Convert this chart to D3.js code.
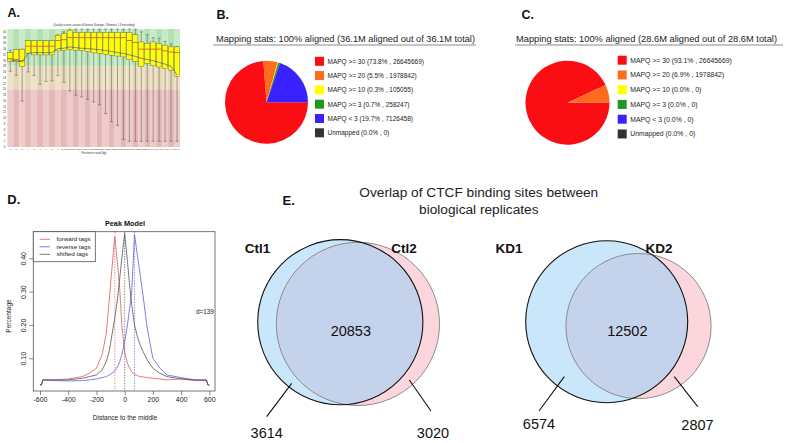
<!DOCTYPE html>
<html>
<head>
<meta charset="utf-8">
<script src="https://cdn.jsdelivr.net/npm/d3@7"></script>
<style>
  body { margin: 0; background: #fff; }
  svg { display: block; font-family: "Liberation Sans", Arial, Helvetica, sans-serif; }
</style>
</head>
<body>
<svg id="fig" width="787" height="443"></svg>
<script>
// ---------------- data ----------------
// A. per-base quality boxplot (FastQC style)
var qualPos = ["1","2","3","4","5","6","7","8","9","10-11","12-13","14-15","16-17","18-19","20-21",
  "22-23","24-25","26-27","28-29","30-31","32-33","34-35","36-37","38-39","40-41","42-43","44-45","46-47","48-49"];
var qualP10 = [26.3,24.9,16,26.1,24.9,21.8,22.8,23,24.8,22.5,19.5,18,17.4,16.5,15.7,14.7,11.6,8.8,7.5,2.6,2,2,2,2,2,2,2,2,2];
var qualQ1  = [29.8,29.6,28,32.5,32,32,32,32,33.4,33.5,33.8,33.6,33.5,33.2,32.7,32.5,32.2,31.9,31.6,31.3,30.4,29.6,28,29,28.2,27.8,27.2,26.7,24.6];
var qualMed = [30.7,30.4,30,35,35,35,35,35,37,37.3,38,38,38,38,38,38,38,38,38,38,37,36.3,34,34,34,34,33.4,33,32.8];
var qualQ3  = [32.8,33.9,34,37,37,37,37,37,38.8,39.4,40.6,39.8,39.8,39.8,39.8,39.8,39.8,39.8,39.8,39.8,39.8,39,36.5,36,36.5,36,35.4,34.8,34.8];
var qualP90 = [33.6,33.8,34,37,37,37,37,37,39,40,41,41,41,41,41,41,41,41,41,41,41,41,40,39,38,37.8,36.7,35.8,34.9];
var qualMean = [30.2,30.0,29.6,32.6,32.8,32.8,32.8,32.8,34.2,34.3,34.8,34.5,34.3,34.2,34.0,33.8,33.5,33.2,32.8,32.5,32.0,31.5,30.8,30.4,30.0,29.4,28.8,28.0,25.0];
var qualTicks = d3.range(0, 41, 2);

// B / C. mapping stats
var mapqLabels = ["MAPQ >= 30","MAPQ >= 20","MAPQ >= 10","MAPQ >= 3","MAPQ < 3","Unmapped"];
var mapqColors = ["#fb0d14","#ff6b1c","#ffff00","#1f991f","#3a22ff","#333333"];
var pctB = [73.8,5.5,0.3,0.7,19.7,0.0];
var countB = [26645669,1978842,105055,258247,7126458,0];
var pctC = [93.1,6.9,0.0,0.0,0.0,0.0];
var countC = [26645669,1978842,0,0,0,0];

// D. MACS peak model
var peakX = [-600,-590,-580,-500,-400,-300,-250,-200,-160,-130,-110,-90,-70,-50,-35,-20,0,20,35,50,70,90,110,130,160,200,250,300,400,500,580,590,600];
var fwdTags = [.02,.02,.035,.035,.038,.045,.055,.07,.11,.175,.27,.37,.465,.38,.31,.20,.12,.085,.07,.06,.052,.048,.045,.044,.042,.040,.038,.035,.038,.033,.035,.02,.02];
var revTags = [.02,.02,.035,.033,.032,.033,.035,.038,.042,.045,.05,.055,.062,.075,.09,.11,.15,.20,.25,.30,.47,.41,.35,.29,.19,.10,.07,.05,.042,.035,.033,.02,.02];
var shiftTags = [.02,.02,.035,.035,.035,.04,.045,.05,.065,.09,.12,.17,.22,.28,.34,.40,.475,.39,.32,.26,.20,.165,.14,.12,.095,.07,.055,.045,.038,.035,.035,.02,.02];
var peakD = 139;

// E. Venn overlaps
var vennNames = [["Ctl1","Ctl2"],["KD1","KD2"]];
var vennOnlyA = [3614, 6574];
var vennOnlyB = [3020, 2807];
var vennBoth  = [20853, 12502];

// ---------------- drawing ----------------
var svg = d3.select("#fig");
svg.append("rect").attr("width", 787).attr("height", 443).attr("fill", "#fff");

function label(txt, x, y, size) {
  svg.append("text").attr("x", x).attr("y", y).attr("font-size", size)
    .attr("font-weight", "bold").attr("fill", "#111").text(txt);
}
label("A.", 7.5, 16.7, 12.5);
label("B.", 216.5, 19.3, 12.5);
label("C.", 521.5, 19.2, 12.5);
label("D.", 7.3, 204.3, 13);
label("E.", 282.5, 205, 13);

// ---- A ----
var gA = svg.append("g");
var aX = d3.scaleBand().domain(qualPos).range([7.3, 180]).paddingInner(0.12).paddingOuter(0.06);
var aY = d3.scaleLinear().domain([0, 41]).range([147, 29]);
var zones = [
  {lo: 28, hi: 41, c: ["#c6ebc6", "#b4e0b4"]},
  {lo: 20, hi: 28, c: ["#efe3c7", "#e6d8b6"]},
  {lo: 0,  hi: 20, c: ["#efcaca", "#e5b8b8"]}
];
var gap = (aX.step() - aX.bandwidth()) / 2;
zones.forEach(function(z) {
  gA.selectAll(null).data(qualPos).enter().append("rect")
    .attr("x", function(d) { return aX(d) - gap; })
    .attr("width", aX.step() + 0.05)
    .attr("y", aY(z.hi)).attr("height", aY(z.lo) - aY(z.hi))
    .attr("fill", function(d, i) { return z.c[i % 2]; });
});
var cx = function(i) { return aX(qualPos[i]) + aX.bandwidth() / 2; };
// whiskers
qualPos.forEach(function(p, i) {
  var w = aX.bandwidth() * 0.6;
  gA.append("line").attr("x1", cx(i)).attr("x2", cx(i))
    .attr("y1", aY(qualP10[i])).attr("y2", aY(qualP90[i]))
    .attr("stroke", "#555").attr("stroke-width", 0.5);
  [qualP10[i], qualP90[i]].forEach(function(v) {
    gA.append("line").attr("x1", cx(i) - w / 2).attr("x2", cx(i) + w / 2)
      .attr("y1", aY(v)).attr("y2", aY(v)).attr("stroke", "#555").attr("stroke-width", 0.5);
  });
});
gA.selectAll(null).data(qualPos).enter().append("rect")
  .attr("x", function(d) { return aX(d); })
  .attr("width", aX.bandwidth())
  .attr("y", function(d, i) { return aY(qualQ3[i]); })
  .attr("height", function(d, i) { return aY(qualQ1[i]) - aY(qualQ3[i]); })
  .attr("fill", "#ffff00").attr("stroke", "#555").attr("stroke-width", 0.4);
gA.selectAll(null).data(qualPos).enter().append("line")
  .attr("x1", function(d) { return aX(d); })
  .attr("x2", function(d) { return aX(d) + aX.bandwidth(); })
  .attr("y1", function(d, i) { return aY(qualMed[i]); })
  .attr("y2", function(d, i) { return aY(qualMed[i]); })
  .attr("stroke", "#e03020").attr("stroke-width", 0.7);
gA.append("path").datum(qualMean)
  .attr("d", d3.line().x(function(d, i) { return cx(i); }).y(function(d) { return aY(d); }))
  .attr("fill", "none").attr("stroke", "#3a3a9a").attr("stroke-width", 0.6);
gA.selectAll(null).data(qualTicks).enter().append("text")
  .attr("x", 4.5).attr("y", function(d) { return aY(d) + 1; })
  .attr("text-anchor", "middle").attr("font-size", 2.8).attr("fill", "#333")
  .text(function(d) { return d; });
gA.selectAll(null).data(qualPos).enter().append("text")
  .attr("x", function(d, i) { return cx(i); }).attr("y", 150)
  .attr("text-anchor", "middle").attr("font-size", 2.3).attr("fill", "#333")
  .text(function(d) { return d; });
gA.append("text").attr("x", 94).attr("y", 153.5).attr("text-anchor", "middle")
  .attr("font-size", 2.8).attr("fill", "#333").text("Position in read (bp)");
gA.append("text").attr("x", 94).attr("y", 26.3).attr("text-anchor", "middle")
  .attr("font-size", 2.9).attr("fill", "#333")
  .text("Quality scores across all bases (Sanger / Illumina 1.9 encoding)");

// ---- B / C ----
function mapPanel(o) {
  var g = svg.append("g");
  g.append("text").attr("x", o.tx).attr("y", 41.5).attr("font-size", 9.25).attr("fill", "#222")
    .attr("textLength", o.tlen).attr("lengthAdjust", "spacingAndGlyphs").text(o.title);
  g.append("line").attr("x1", o.lx1).attr("x2", o.lx2).attr("y1", 45).attr("y2", 45)
    .attr("stroke", "#8a8a8a").attr("stroke-width", 1);
  var pie = d3.pie().sort(null).startAngle(Math.PI / 2).endAngle(Math.PI / 2 + 2 * Math.PI);
  var arc = d3.arc().innerRadius(0).outerRadius(o.r);
  g.append("g").attr("transform", "translate(" + o.cx + "," + o.cy + ")")
    .selectAll("path").data(pie(o.pct)).enter().append("path")
    .attr("d", arc).attr("fill", function(d, i) { return mapqColors[i]; });
  mapqLabels.forEach(function(lab, i) {
    var y = o.row0 + i * o.step;
    g.append("rect").attr("x", o.sx).attr("y", y - 4.5).attr("width", 9).attr("height", 9)
      .attr("fill", mapqColors[i]);
    g.append("text").attr("x", o.sx + 12.5).attr("y", y + 2.3).attr("font-size", o.fs)
      .attr("fill", "#222")
      .text(lab + " (" + o.pct[i].toFixed(1) + "% , " + o.counts[i] + ")");
  });
}
mapPanel({title: "Mapping stats: 100% aligned (36.1M aligned out of 36.1M total)",
  tx: 216, tlen: 259, lx1: 213, lx2: 476, cx: 266.5, cy: 102.3, r: 41.5,
  pct: pctB, counts: countB, sx: 315, row0: 61.3, step: 14.3, fs: 6.5});
mapPanel({title: "Mapping stats: 100% aligned (28.6M aligned out of 28.6M total)",
  tx: 516, tlen: 261, lx1: 515, lx2: 783, cx: 567.5, cy: 102.7, r: 42,
  pct: pctC, counts: countC, sx: 617.7, row0: 60.2, step: 14.75, fs: 6.85});

// ---- D ----
var gD = svg.append("g");
var dX = d3.scaleLinear().domain([-600, 600]).range([40, 209.3]);
var dY = d3.scaleLinear().domain([0, 0.4]).range([391.6, 258.3]);
var box = {x0: 33.3, x1: 215, y0: 231.7, y1: 391};
var series = [
  {name: "forward tags", vals: fwdTags, color: "#d95c5c", mode: -peakD / 2},
  {name: "reverse tags", vals: revTags, color: "#5f5fd6", mode: peakD / 2},
  {name: "shifted tags", vals: shiftTags, color: "#555555", mode: 0}
];
series.forEach(function(s) {
  gD.append("line").attr("x1", dX(s.mode)).attr("x2", dX(s.mode))
    .attr("y1", box.y0).attr("y2", box.y1)
    .attr("stroke", s.color).attr("stroke-width", 0.8).attr("stroke-dasharray", "1.2,1.5");
});
var line = d3.line().x(function(d, i) { return dX(peakX[i]); }).y(function(d) { return dY(d); });
series.forEach(function(s) {
  gD.append("path").datum(s.vals).attr("d", line)
    .attr("fill", "none").attr("stroke", s.color).attr("stroke-width", 0.8);
});
gD.append("rect").attr("x", box.x0).attr("y", box.y0)
  .attr("width", box.x1 - box.x0).attr("height", box.y1 - box.y0)
  .attr("fill", "none").attr("stroke", "#555").attr("stroke-width", 0.8);
var xAxis = gD.append("g").attr("transform", "translate(0," + box.y1 + ")")
  .call(d3.axisBottom(dX).tickValues(d3.range(-600, 601, 200)).tickSize(4).tickPadding(2)
    .tickFormat(function(d) { return String(d); }));
xAxis.select(".domain").remove();
xAxis.selectAll("line").attr("stroke", "#555").attr("stroke-width", 0.7);
xAxis.selectAll("text").attr("font-size", 7).attr("fill", "#222").attr("font-family", null);
var yAxis = gD.append("g").attr("transform", "translate(" + box.x0 + ",0)")
  .call(d3.axisLeft(dY).tickValues([0.1, 0.2, 0.3, 0.4]).tickSize(4));
yAxis.select(".domain").remove();
yAxis.selectAll("line").attr("stroke", "#555").attr("stroke-width", 0.7);
yAxis.selectAll("text").attr("font-size", 7).attr("fill", "#222").attr("font-family", null)
  .attr("transform", "rotate(-90)").attr("x", 0).attr("y", -7).attr("dy", 0)
  .attr("text-anchor", "middle");
gD.append("text").attr("x", 125).attr("y", 226).attr("text-anchor", "middle")
  .attr("font-size", 7.3).attr("font-weight", "bold").attr("fill", "#111").text("Peak Model");
gD.append("text").attr("x", 125).attr("y", 420).attr("text-anchor", "middle")
  .attr("font-size", 6.5).attr("fill", "#222").text("Distance to the middle");
gD.append("text").attr("transform", "translate(10.5,316) rotate(-90)").attr("text-anchor", "middle")
  .attr("font-size", 6.5).attr("fill", "#222").text("Percentage");
gD.append("text").attr("x", 196).attr("y", 314).attr("font-size", 6.3).attr("fill", "#222")
  .text("d=" + peakD);
gD.append("rect").attr("x", box.x0).attr("y", box.y0).attr("width", 62).attr("height", 30)
  .attr("fill", "#fff").attr("stroke", "#555").attr("stroke-width", 0.8);
series.forEach(function(s, i) {
  var y = 239.3 + i * 7.5;
  gD.append("line").attr("x1", 39.5).attr("x2", 50).attr("y1", y).attr("y2", y)
    .attr("stroke", s.color).attr("stroke-width", 0.8);
  gD.append("text").attr("x", 56.5).attr("y", y + 2).attr("font-size", 6.2).attr("fill", "#222")
    .text(s.name);
});

// ---- E ----
var gE = svg.append("g");
gE.append("text").attr("x", 478.8).attr("y", 196.5).attr("text-anchor", "middle")
  .attr("font-size", 13.7).attr("fill", "#222").text("Overlap of CTCF binding sites between");
gE.append("text").attr("x", 478.8).attr("y", 213.5).attr("text-anchor", "middle")
  .attr("font-size", 13.7).attr("fill", "#222").text("biological replicates");

function lensArea(r1, r2, d) {
  if (d >= r1 + r2) return 0;
  if (d <= Math.abs(r1 - r2)) return Math.PI * Math.pow(Math.min(r1, r2), 2);
  var a = r1 * r1 * Math.acos((d * d + r1 * r1 - r2 * r2) / (2 * d * r1));
  var b = r2 * r2 * Math.acos((d * d + r2 * r2 - r1 * r1) / (2 * d * r2));
  var c = 0.5 * Math.sqrt((-d + r1 + r2) * (d + r1 - r2) * (d - r1 + r2) * (d + r1 + r2));
  return a + b - c;
}
function solveDist(r1, r2, target) {
  var lo = Math.abs(r1 - r2), hi = r1 + r2;
  for (var k = 0; k < 60; k++) {
    var mid = (lo + hi) / 2;
    if (lensArea(r1, r2, mid) > target) lo = mid; else hi = mid;
  }
  return (lo + hi) / 2;
}

var vennLayout = [
  {cx: 340.3, cy: 322.2, rMax: 82.6, angle: 5.5, nameX: [257.5, 404], nameY: 253.3,
   both: [350.8, 336], onlyA: [266.7, 438.3], onlyB: [433, 438.3],
   leadA: [[291.7, 383.3], [266.7, 416.7]], leadB: [[409.3, 380], [431, 411]]},
  {cx: 606.7, cy: 321.7, rMax: 81, angle: 7.8, nameX: [509, 659], nameY: 253.3,
   both: [627.3, 336], onlyA: [539, 429], onlyB: [697.5, 430],
   leadA: [[564.3, 376.7], [539, 411]], leadB: [[674.3, 376.7], [697.7, 406.7]]}
];

vennLayout.forEach(function(L, v) {
  var totA = vennOnlyA[v] + vennBoth[v], totB = vennOnlyB[v] + vennBoth[v];
  var rScale = d3.scaleSqrt().domain([0, Math.max(totA, totB)]).range([0, L.rMax]);
  var rA = rScale(totA), rB = rScale(totB);
  var unitArea = Math.PI * L.rMax * L.rMax / Math.max(totA, totB);
  var d = solveDist(rA, rB, vennBoth[v] * unitArea);
  var t = L.angle * Math.PI / 180;
  var bx = L.cx + d * Math.cos(t), by = L.cy + d * Math.sin(t);
  var clipId = "clipV" + v;
  gE.append("clipPath").attr("id", clipId).append("circle")
    .attr("cx", L.cx).attr("cy", L.cy).attr("r", rA);
  gE.append("circle").attr("cx", L.cx).attr("cy", L.cy).attr("r", rA).attr("fill", "#c9e6fb");
  gE.append("circle").attr("cx", bx).attr("cy", by).attr("r", rB).attr("fill", "#fcd6dd");
  gE.append("circle").attr("cx", bx).attr("cy", by).attr("r", rB).attr("fill", "#c4d2ec")
    .attr("clip-path", "url(#" + clipId + ")");
  gE.append("circle").attr("cx", bx).attr("cy", by).attr("r", rB).attr("fill", "none")
    .attr("stroke", "#8c8c8c").attr("stroke-width", 1);
  gE.append("circle").attr("cx", L.cx).attr("cy", L.cy).attr("r", rA).attr("fill", "none")
    .attr("stroke", "#111").attr("stroke-width", 1.1);

  gE.selectAll(null).data(vennNames[v]).enter().append("text")
    .attr("x", function(dd, i) { return L.nameX[i]; }).attr("y", L.nameY)
    .attr("text-anchor", "middle").attr("font-size", 13.5).attr("font-weight", "bold")
    .attr("fill", "#111").text(function(dd) { return dd; });
  [[vennBoth[v], L.both], [vennOnlyA[v], L.onlyA], [vennOnlyB[v], L.onlyB]].forEach(function(p) {
    gE.append("text").attr("x", p[1][0]).attr("y", p[1][1]).attr("text-anchor", "middle")
      .attr("font-size", 14.5).attr("fill", "#111").text(p[0]);
  });
  [L.leadA, L.leadB].forEach(function(seg) {
    gE.append("line").attr("x1", seg[0][0]).attr("y1", seg[0][1])
      .attr("x2", seg[1][0]).attr("y2", seg[1][1])
      .attr("stroke", "#111").attr("stroke-width", 1.1);
  });
});
</script>
</body>
</html>
